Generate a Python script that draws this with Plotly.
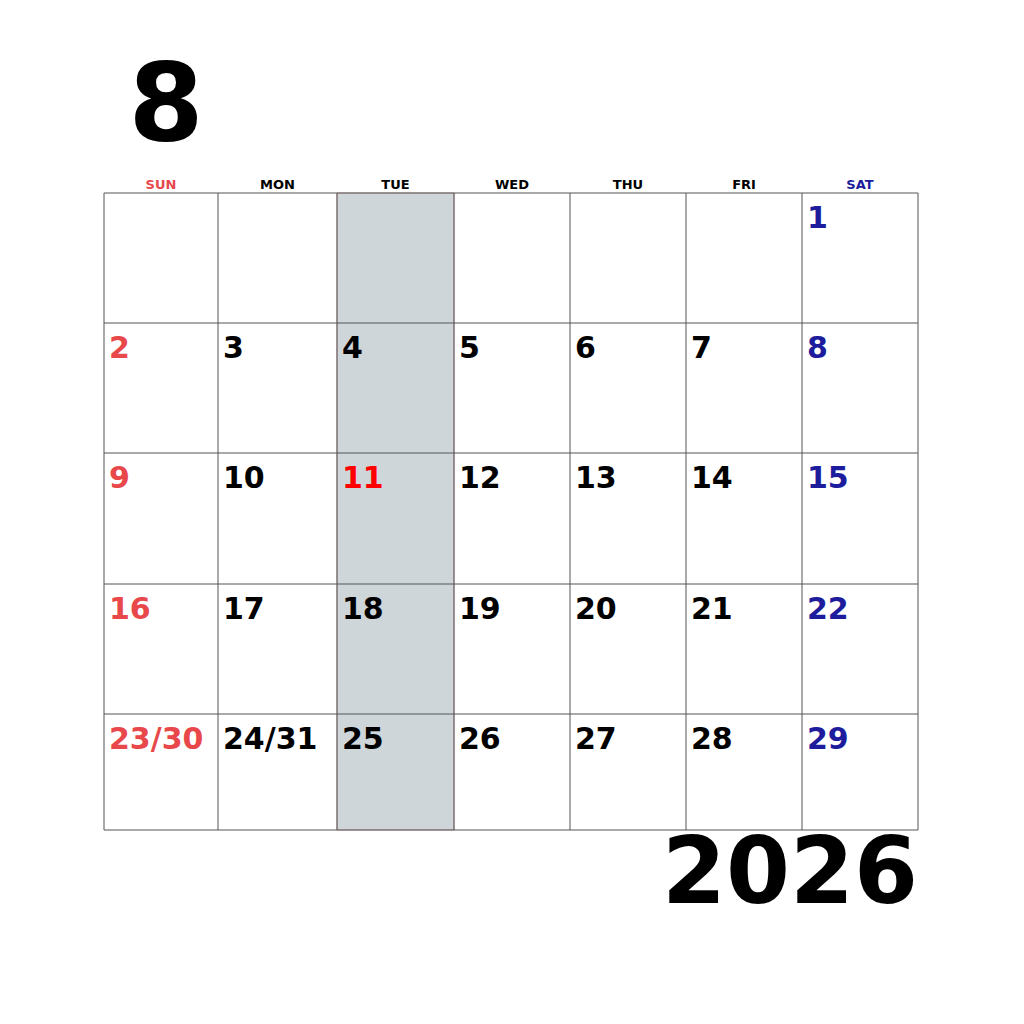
import plotly.graph_objects as go

# Calendar content
month = "8"
year = "2026"
weekdays = ["SUN", "MON", "TUE", "WED", "THU", "FRI", "SAT"]
weeks = [
    ["", "", "", "", "", "", "1"],
    ["2", "3", "4", "5", "6", "7", "8"],
    ["9", "10", "11", "12", "13", "14", "15"],
    ["16", "17", "18", "19", "20", "21", "22"],
    ["23/30", "24/31", "25", "26", "27", "28", "29"],
]
holidays = ["11"]

# Layout (pixel positions of grid lines)
col_edges = [104, 218, 337, 454, 570, 686, 802, 918]
row_edges = [193, 323, 453, 584, 714, 830]
shaded_col = 2

SUN_C, SAT_C, HOL_C, TXT_C = "#e8484a", "#1c1c9c", "#ff0000", "#000000"
FONT = "DejaVu Sans"

fig = go.Figure()

# shaded column
fig.add_shape(type="rect", x0=col_edges[shaded_col], x1=col_edges[shaded_col + 1],
              y0=row_edges[0], y1=row_edges[-1], fillcolor="#cfd6da",
              line=dict(color="#c9a0a8", width=1), layer="below")

# grid lines
for x in col_edges:
    fig.add_shape(type="line", x0=x, x1=x, y0=row_edges[0], y1=row_edges[-1],
                  line=dict(color="#555555", width=1))
for y in row_edges:
    fig.add_shape(type="line", x0=col_edges[0], x1=col_edges[-1], y0=y, y1=y,
                  line=dict(color="#555555", width=1))

def day_color(c, d):
    if d in holidays:
        return HOL_C
    if c == 0:
        return SUN_C
    if c == 6:
        return SAT_C
    return TXT_C

# weekday headers
hx = [(col_edges[i] + col_edges[i + 1]) / 2 for i in range(7)]
hcol = [SUN_C] + [TXT_C] * 5 + [SAT_C]
fig.add_trace(go.Scatter(x=hx, y=[186] * 7, mode="text", text=weekdays,
                         textfont=dict(family=FONT, size=13, color=hcol, weight="bold"),
                         hoverinfo="skip"))

# day numbers
xs, ys, ts, cs = [], [], [], []
for r, week in enumerate(weeks):
    for c, d in enumerate(week):
        if not d:
            continue
        xs.append(col_edges[c] + 5)
        ys.append(row_edges[r] + 27)
        ts.append(d)
        cs.append(day_color(c, d))
fig.add_trace(go.Scatter(x=xs, y=ys, mode="text", text=ts, textposition="middle right",
                         textfont=dict(family=FONT, size=30, color=cs, weight="bold"),
                         hoverinfo="skip"))

# month and year
fig.add_trace(go.Scatter(x=[166], y=[113], mode="text", text=[month],
                         textfont=dict(family=FONT, size=108, color="black", weight="bold"),
                         hoverinfo="skip"))
fig.add_trace(go.Scatter(x=[790], y=[880], mode="text", text=[year],
                         textfont=dict(family=FONT, size=92, color="black", weight="bold"),
                         hoverinfo="skip"))

# page body has an 8px margin, so shift the axis window to line up with the picture
fig.update_layout(
    width=1024, height=1024, margin=dict(l=0, r=0, t=0, b=0),
    paper_bgcolor="white", plot_bgcolor="white", showlegend=False,
    xaxis=dict(range=[8, 1032], visible=False, fixedrange=True),
    yaxis=dict(range=[1032, 8], visible=False, fixedrange=True),
)

fig.write_html("out.html")
